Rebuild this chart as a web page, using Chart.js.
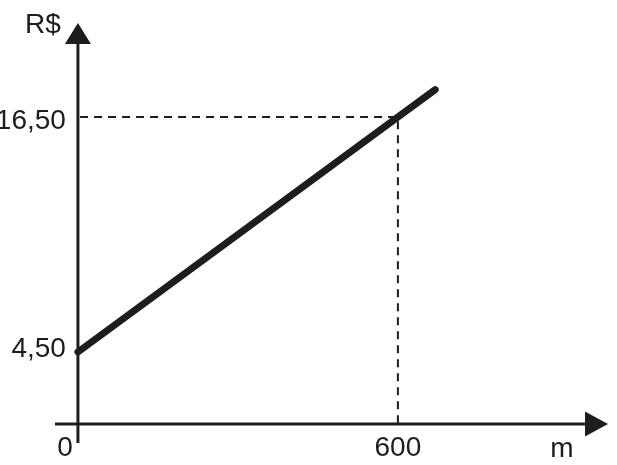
<!DOCTYPE html>
<html>
<head>
<meta charset="utf-8">
<script src="https://cdn.jsdelivr.net/npm/chart.js@4"></script>
<style>
  html, body { margin: 0; padding: 0; background: #fff; }
  #wrap { width: 617px; height: 465px; }
</style>
</head>
<body>
<div id="wrap"><canvas id="costChart" width="617" height="465"></canvas></div>
<script>
// values
const lineX = [0, 670];        // metres
const lineY = [4.5, 17.9];     // R$
const refX = 600;              // dashed guide point
const refY = 16.5;
const xTicks = [0, 600];
const xTickLabels = ["0", "600"];
const yTicks = [4.5, 16.5];
const yTickLabels = ["4,50", "16,50"];
const xTitle = "m";
const yTitle = "R$";
const baseY = 0.82;            // where the horizontal axis sits (sketch not to scale)

const ink = "#1d1d1b";
const font = '28px "Liberation Sans", Arial, sans-serif';

// axes, arrows and text drawn on top of the hidden scales
const sketchAxes = {
  id: "sketchAxes",
  afterDatasetsDraw(chart) {
    const c = chart.ctx;
    const xs = chart.scales.x;
    const ys = chart.scales.y;
    const x0 = xs.getPixelForValue(0);
    const yb = ys.getPixelForValue(baseY);
    const area = chart.chartArea;

    c.save();
    c.strokeStyle = ink;
    c.fillStyle = ink;
    c.lineWidth = 3;

    // vertical axis
    c.beginPath();
    c.moveTo(x0, area.bottom);
    c.lineTo(x0, area.top + 21);
    c.stroke();
    c.beginPath();
    c.moveTo(x0, area.top);
    c.lineTo(x0 - 13, area.top + 21);
    c.lineTo(x0 + 13, area.top + 21);
    c.closePath();
    c.fill();

    // horizontal axis
    c.beginPath();
    c.moveTo(area.left, yb);
    c.lineTo(area.right - 23, yb);
    c.stroke();
    c.beginPath();
    c.moveTo(area.right, yb);
    c.lineTo(area.right - 23, yb - 12.5);
    c.lineTo(area.right - 23, yb + 12.5);
    c.closePath();
    c.fill();

    // labels (the lower one sits a little above its level in the sketch)
    c.font = font;
    c.textBaseline = "alphabetic";
    yTicks.forEach((v, i) => {
      c.textAlign = "right";
      const nudge = i === 0 ? 5 : 12;
      c.fillText(yTickLabels[i], x0 - 12, ys.getPixelForValue(v) + nudge);
    });
    xTicks.forEach((v, i) => {
      const px = xs.getPixelForValue(v);
      if (v === 0) {
        c.textAlign = "right";
        c.fillText(xTickLabels[i], x0 - 5, yb + 32);
      } else {
        c.textAlign = "center";
        c.fillText(xTickLabels[i], px, yb + 32);
      }
    });
    c.textAlign = "center";
    c.fillText(xTitle, 562, yb + 33);
    c.fillText(yTitle, 43, area.top + 10);
    c.restore();
  }
};

const ctx = document.getElementById("costChart").getContext("2d");

new Chart(ctx, {
  type: "line",
  data: {
    datasets: [
      {
        data: lineX.map((x, i) => ({ x: x, y: lineY[i] })),
        borderColor: ink,
        borderWidth: 7,
        borderCapStyle: "round",
        pointRadius: 0,
        tension: 0
      },
      {
        // dashed guide from the y axis to the point and down to the x axis
        data: [
          { x: 4, y: refY },
          { x: refX, y: refY },
          { x: refX, y: baseY }
        ],
        borderColor: ink,
        borderWidth: 2,
        borderDash: [8, 6],
        pointRadius: 0,
        tension: 0
      }
    ]
  },
  options: {
    responsive: false,
    animation: false,
    layout: { padding: { left: 55, top: 23, right: 9, bottom: 22 } },
    plugins: { legend: { display: false }, tooltip: { enabled: false } },
    scales: {
      x: { type: "linear", min: -43, max: 994, display: false },
      y: { type: "linear", min: -0.15, max: 21.3, display: false }
    }
  },
  plugins: [sketchAxes]
});
</script>
</body>
</html>
